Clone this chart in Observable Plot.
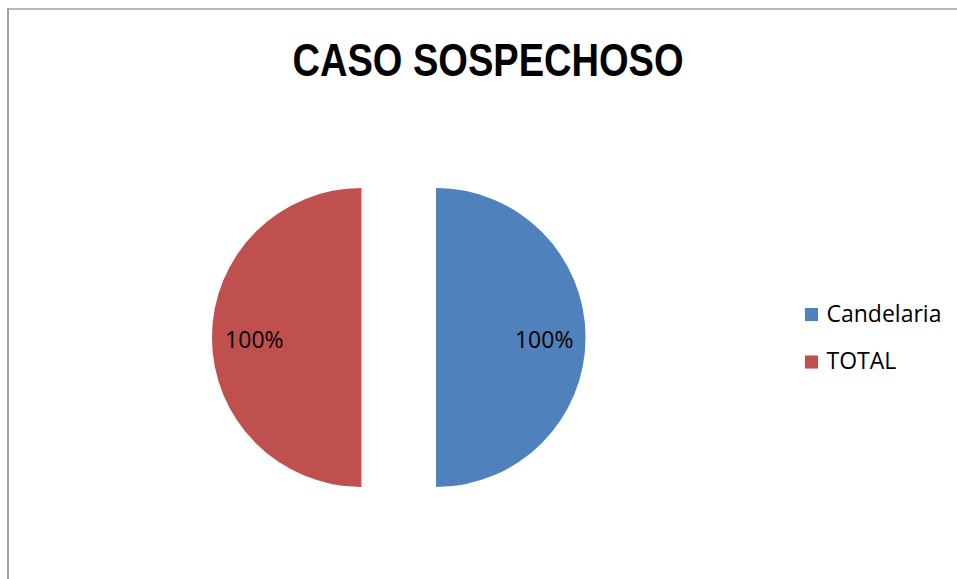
<!DOCTYPE html>
<html>
<head>
<meta charset="utf-8">
<script src="https://cdn.jsdelivr.net/npm/d3@7"></script>
<script src="https://cdn.jsdelivr.net/npm/@observablehq/plot@0.6"></script>
<style>
  html, body { margin: 0; padding: 0; background: #fff; }
  #chart svg { display: block; }
</style>
</head>
<body>
<div id="chart"></div>
<script>
// ---- Data ----
const categories = ["Candelaria", "TOTAL"];
const values = [1, 1];
const labels = ["100%", "100%"];
const colors = ["#4f81bd", "#c0504d"];
const title = "CASO SOSPECHOSO";

// ---- Layout ----
const W = 957, H = 579;
const cx = 398.75, cy = 337.5, R = 149.5, explode = 37.3;
const labelR = 0.72 * R;

const rows = categories.map((c, i) => ({category: c, value: values[i], label: labels[i], color: colors[i]}));
const arcs = d3.pie().sort(null).value(d => d.value)(rows);
const slices = arcs.map(a => {
  const mid = (a.startAngle + a.endAngle) / 2;
  const ox = cx + explode * Math.sin(mid);
  const oy = cy - explode * Math.cos(mid);
  return {
    ...a.data, startAngle: a.startAngle, endAngle: a.endAngle,
    ox, oy,
    lx: ox + labelR * Math.sin(mid),
    ly: oy - labelR * Math.cos(mid) + 2.5
  };
});

const legendRows = rows.map((d, i) => ({...d, lx: 811, ly: 314 + i * 47.5}));

const arcGen = d3.arc().innerRadius(0).outerRadius(R);
function pieMark(index, scales) {
  const g = d3.create("svg:g");
  for (const s of slices) {
    g.append("path")
      .attr("d", arcGen({startAngle: s.startAngle, endAngle: s.endAngle}))
      .attr("transform", `translate(${scales.x(s.ox)},${scales.y(s.oy)})`)
      .attr("fill", s.color);
  }
  return g.node();
}

const font = "'Open Sans', 'DejaVu Sans', sans-serif";
const chart = Plot.plot({
  width: W, height: H, margin: 0,
  x: {domain: [0, W], range: [0, W], axis: null},
  y: {domain: [0, H], range: [0, H], axis: null},
  style: {fontFamily: font, background: "#fff"},
  marks: [
    Plot.ruleX([7.5], {y1: 8, y2: H, stroke: "#8c8c8c", strokeWidth: 1.6}),
    Plot.ruleY([8.5], {x1: 7, x2: W, stroke: "#a0a0a0", strokeWidth: 1.3}),
    pieMark,
    Plot.text(slices, {x: "lx", y: "ly", text: "label", fontSize: 23, fill: "#000", fontFamily: font}),
    Plot.text([title], {x: 487.5, y: 60, text: d => d, fontSize: 47, fontWeight: "bold", fill: "#000",
      className: "chart-title",
      fontFamily: "'Liberation Sans', 'Arial', sans-serif"}),
    Plot.dot(legendRows, {x: "lx", y: "ly", symbol: "square", r: 7.4, fill: "color", stroke: null}),
    Plot.text(legendRows, {x: d => d.lx + 15, y: "ly", text: "category", textAnchor: "start", fontSize: 23, fill: "#000", fontFamily: font})
  ]
});
const t = chart.querySelector(".chart-title text");
if (t) { t.setAttribute("textLength", 391); t.setAttribute("lengthAdjust", "spacingAndGlyphs"); }
document.getElementById("chart").appendChild(chart);
</script>
</body>
</html>
